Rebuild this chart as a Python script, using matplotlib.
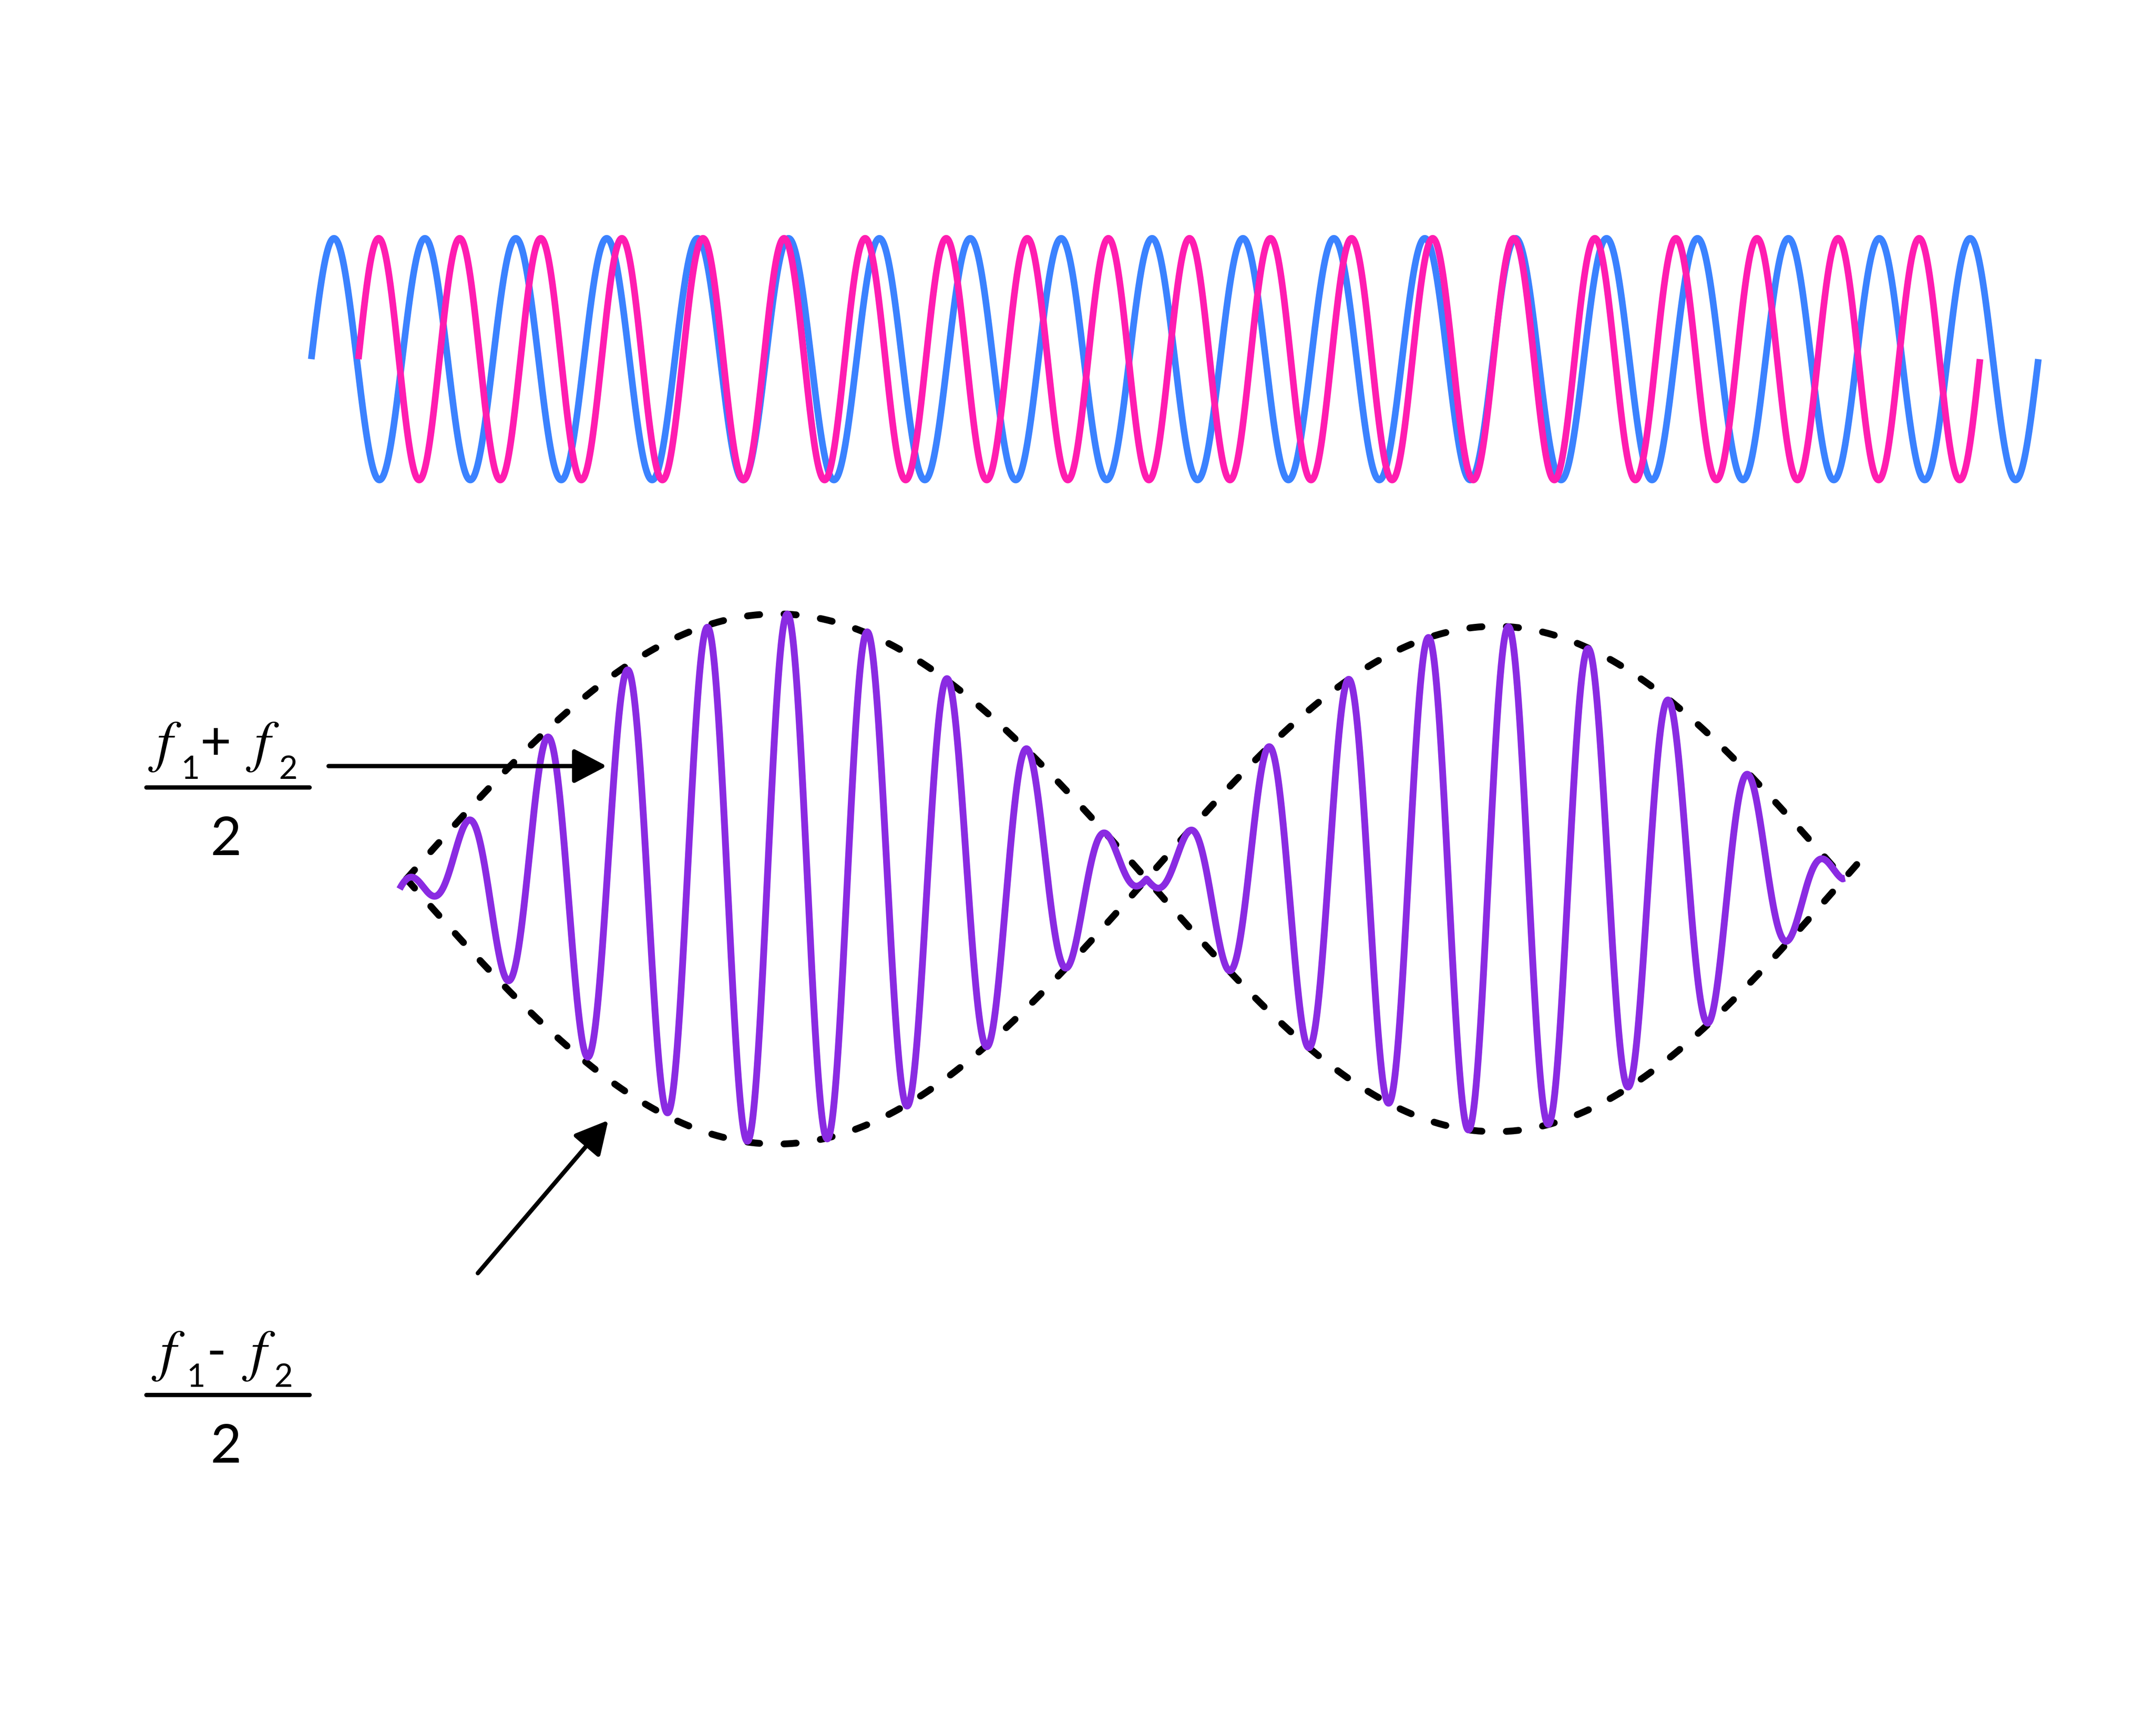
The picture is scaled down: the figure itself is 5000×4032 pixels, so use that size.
"""Beat-frequency sketch: two tones on top, their sum with the dashed envelope below."""
import numpy as np
import matplotlib
matplotlib.use("Agg")
import matplotlib.pyplot as plt

# canvas is laid out in reference-pixel units (1568 x 1264, y pointing down)
W, H = 1568, 1264

# --- top: the two tones f1 (blue) and f2 (pink) ---
TONE_COLORS = ["#3B82FF", "#FF1DB0"]
TONE_START_X = [226.7, 261.0]
TONE_END_X = [1484.5, 1442.0]
TONE_CYCLES = [19, 20]
TONE_MID_Y = 261.5
TONE_AMP = 88.0

# --- bottom: the beat ---
BEAT_MID_Y = 640.0
ENV_NODES_X = [296.0, 835.0, 1343.0]     # dashed envelope nodes
ENV_AMPS = [193.0, 184.0]                # per lobe
ENV_TAIL_X = 1357.0                      # one branch runs past the last node
SUM_NODES_X = [303.0, 835.0, 1342.0]     # envelope of the purple trace
SUM_AMPS = [193.0, 184.0]
CARRIER_PEAK_X = 340.0
CARRIER_PERIOD = 58.35
SUM_START_X = 291.0
SUM_END_X = 1343.7

# --- labels: (f1 op f2) / 2 ---
LABEL_OPS = ["+", "-"]
LABEL_SUBS = ["1", "2"]
LABEL_VAR = "f"
LABEL_DEN = "2"

PURPLE = "#8A2BE2"

plt.rcParams.update({
    "font.family": ["Lato", "DejaVu Sans"],
    "lines.scale_dashes": False,
})


def lobe_env(x, nodes, amps):
    # signed half-sine per lobe; past the outer nodes the sign flips
    out = np.zeros_like(x)
    idx = np.clip(np.searchsorted(nodes, x) - 1, 0, len(amps) - 1)
    for i, a in enumerate(amps):
        m = idx == i
        w = nodes[i + 1] - nodes[i]
        out[m] = (-1) ** i * a * np.sin(np.pi * (x[m] - nodes[i]) / w)
    return out


fig = plt.figure(figsize=(5000 / 300, 4032 / 300), dpi=300)
ax = fig.add_axes([0, 0, 1, 1])
ax.set_xlim(0, W)
ax.set_ylim(H, 0)
ax.axis("off")

# top tones
for c, x0, x1, n in zip(TONE_COLORS, TONE_START_X, TONE_END_X, TONE_CYCLES):
    x = np.linspace(x0, x1, 6000)
    y = TONE_MID_Y - TONE_AMP * np.sin(2 * np.pi * n * (x - x0) / (x1 - x0))
    ax.plot(x, y, color=c, lw=3.7, solid_capstyle="butt")

# dashed envelope
dash = dict(color="black", lw=3.8, dashes=(6.8, 13.6), dash_capstyle="round")
xa = np.linspace(ENV_NODES_X[0], ENV_TAIL_X, 3000)
ax.plot(xa, BEAT_MID_Y - lobe_env(xa, ENV_NODES_X, ENV_AMPS), **dash)
xb = np.linspace(ENV_NODES_X[0], ENV_NODES_X[-1], 3000)
ax.plot(xb, BEAT_MID_Y + lobe_env(xb, ENV_NODES_X, ENV_AMPS), **dash)

# summed wave
xs = np.linspace(SUM_START_X, SUM_END_X, 6000)
env = lobe_env(xs, SUM_NODES_X, SUM_AMPS)
env = np.where((xs > SUM_NODES_X[0]) & (xs < SUM_NODES_X[-1]), np.abs(env), env)
ys = BEAT_MID_Y - env * np.cos(2 * np.pi * (xs - CARRIER_PEAK_X) / CARRIER_PERIOD)
ax.plot(xs, ys, color=PURPLE, lw=3.8, solid_capstyle="butt")

# fraction labels, built piece by piece
var_kw = dict(fontsize=32, family="STIXGeneral", style="italic", ha="center", va="baseline")
sub_kw = dict(fontsize=18, ha="center", va="baseline")
op_kw = dict(fontsize=30, ha="center", va="baseline")
layouts = [
    # f1 x, sub1 x, op x, f2 x, sub2 x, baseline, sub baseline, bar y, den baseline
    (119.8, 138.8, 157.0, 190.9, 209.8, 554.0, 567.0, 573.3, 622.5),
    (122.5, 142.8, 157.7, 188.3, 206.5, 997.5, 1009.7, 1015.7, 1065.0),
]
for op, (fx1, sx1, ox, fx2, sx2, base, sbase, bar_y, den_y) in zip(LABEL_OPS, layouts):
    ax.text(fx1, base, LABEL_VAR, **var_kw)
    ax.text(sx1, sbase, LABEL_SUBS[0], **sub_kw)
    ax.text(ox, base - 1, op, **op_kw)
    ax.text(fx2, base, LABEL_VAR, **var_kw)
    ax.text(sx2, sbase, LABEL_SUBS[1], **sub_kw)
    ax.plot([106.6, 225.5], [bar_y, bar_y], color="black", lw=2.4,
            solid_capstyle="round")
    ax.text(164.5, den_y, LABEL_DEN, fontsize=30, ha="center", va="baseline")

arrow = dict(arrowstyle="-|>,head_length=0.4,head_width=0.21", mutation_scale=39,
             lw=2.4, color="black", shrinkA=0, shrinkB=0, capstyle="round")
ax.annotate("", xy=(441.9, 557.8), xytext=(239.3, 557.8), arrowprops=arrow)
ax.annotate("", xy=(443.0, 815.7), xytext=(348.0, 927.0), arrowprops=arrow)

fig.savefig("out.png", dpi=300, facecolor="white")
plt.close(fig)
